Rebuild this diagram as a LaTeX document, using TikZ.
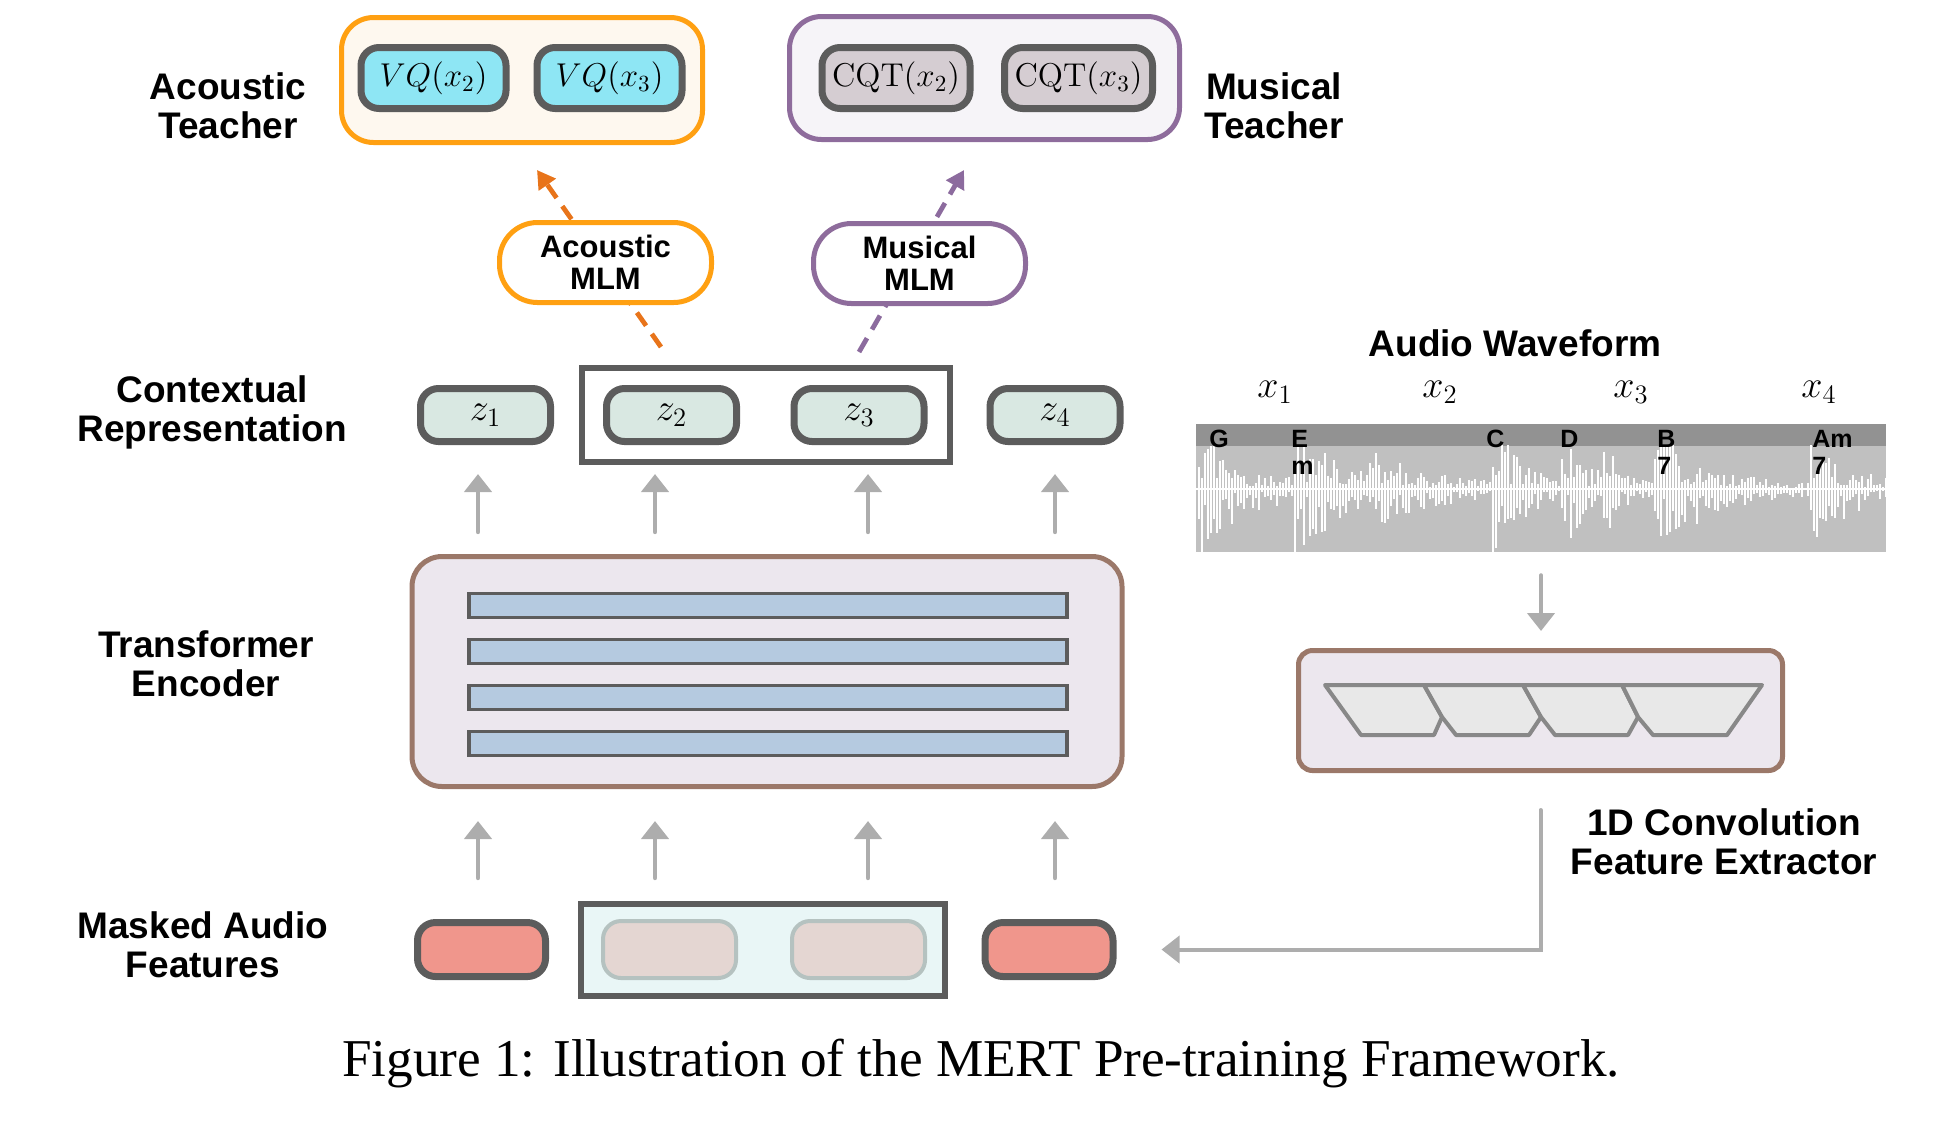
\documentclass[tikz,border=0pt]{standalone}
\usepackage{fix-cm}
\usepackage{amsmath}
\usepackage[no-math]{fontspec}
\setmainfont{Liberation Serif}
\setsansfont{Liberation Sans}
\usetikzlibrary{arrows.meta}

\definecolor{tOrange}{HTML}{FFA012}
\definecolor{tOrangeFill}{HTML}{FEF8EF}
\definecolor{tPurple}{HTML}{8E6C9C}
\definecolor{tPurpleFill}{HTML}{F6F4F8}
\definecolor{vqCyan}{HTML}{8EE6F4}
\definecolor{cqtGray}{HTML}{D5CDD2}
\definecolor{darkGr}{HTML}{5C5C5C}
\definecolor{zMint}{HTML}{D9E8E2}
\definecolor{encBrown}{HTML}{9B7869}
\definecolor{encFill}{HTML}{ECE7EE}
\definecolor{barBlue}{HTML}{B5CAE0}
\definecolor{maskRed}{HTML}{F0968C}
\definecolor{maskPale}{HTML}{E4D6D2}
\definecolor{maskEdge}{HTML}{B5C2C0}
\definecolor{maskBg}{HTML}{E9F6F6}
\definecolor{arrGray}{HTML}{ADADAD}
\definecolor{waveBg}{HTML}{C0C0C0}
\definecolor{waveBand}{HTML}{929292}
\definecolor{trapGray}{HTML}{888888}
\definecolor{trapFill}{HTML}{E8E8E8}
\definecolor{dashOrange}{HTML}{E8741A}
\definecolor{dashPurple}{HTML}{8C6B9E}

\tikzset{
  lbl/.style={font=\sffamily\bfseries\fontsize{18.5}{19.5}\selectfont,align=center},
  tok/.style={draw=darkGr,line width=3.5pt,rounded corners=9pt,inner sep=0pt,font=\fontsize{16.5}{18}\selectfont},
  mlm/.style={line width=2.5pt,fill=white,rounded corners=19pt,minimum width=106pt,minimum height=40pt,align=center,inner sep=0pt,font=\sffamily\bfseries\fontsize{15.5}{16}\selectfont},
  garr/.style={draw=arrGray,line width=2.2pt,line cap=round,-{Triangle[width=13.5pt,length=9pt]}},
  tdash/.style={line width=2.4pt,dash pattern=on 8pt off 5pt,-{Triangle[width=10pt,length=9pt]}},
  chord/.style={font=\sffamily\bfseries\fontsize{12.5}{13.5}\selectfont,align=left,anchor=north west,inner sep=0pt},
}

\begin{document}
\begin{tikzpicture}[x=0.5pt,y=-0.5pt]
          %\draw[very thin,lightgray] (0,0) grid[step=100] (1957,1131);
          \useasboundingbox (0,0) rectangle (1957,1131);
          % teachers
          \node[draw=tOrange,fill=tOrangeFill,line width=2.5pt,rounded corners=16pt,minimum width=180.5pt,minimum height=62.5pt] (at) at (522,80) {};
          \node[draw=tPurple,fill=tPurpleFill,line width=2.5pt,rounded corners=16pt,minimum width=195pt,minimum height=61.5pt] (mt) at (984.5,78) {};
          \node[tok,fill=vqCyan,minimum width=72.5pt,minimum height=30.5pt] (vq2) at (433.5,78) {$VQ(x_2)$};
          \node[tok,fill=vqCyan,minimum width=72.5pt,minimum height=30.5pt] (vq3) at (609.5,78) {$VQ(x_3)$};
          \node[tok,fill=cqtGray,minimum width=74pt,minimum height=30.5pt] (cqt2) at (896,78) {$\mathrm{CQT}(x_2)$};
          \node[tok,fill=cqtGray,minimum width=74pt,minimum height=30.5pt] (cqt3) at (1078.5,78) {$\mathrm{CQT}(x_3)$};
          \node[lbl] (atl) at (228,106) {Acoustic\\Teacher};
          \node[lbl] (mtl) at (1274,106) {Musical\\Teacher};
          % masked prediction
          \coordinate (atail) at (661,347);
          \coordinate (ahead) at (537,170);
          \coordinate (mtail) at (859,352);
          \coordinate (mhead) at (964,170);
          \draw[tdash,dashOrange] (atail) -- (ahead);
          \draw[tdash,dashPurple] (mtail) -- (mhead);
          \node[mlm,draw=tOrange] (am) at (605.5,262.5) {Acoustic\\MLM};
          \node[mlm,draw=tPurple] (mm) at (919.5,263.5) {Musical\\MLM};
          % contextual representation
          \node[draw=darkGr,line width=3pt,minimum width=184pt,minimum height=47pt] (zg) at (766,415) {};
          \foreach \n/\x in {1/485.5,2/671.5,3/859,4/1055}
            \node[tok,fill=zMint,minimum width=65pt,minimum height=26.5pt,font=\fontsize{19}{20}\selectfont] (z\n) at (\x,415) {$z_\n$};
          \node[lbl] (crl) at (212,412) {Contextual\\Representation};
          % encoder
          \node[draw=encBrown,fill=encFill,line width=2.5pt,rounded corners=15pt,minimum width=355pt,minimum height=115pt] (enc) at (767,671.5) {};
          \foreach \y [count=\i] in {605.5,651.5,697.5,743.5}
            \node[draw=darkGr,fill=barBlue,line width=1.6pt,minimum width=299pt,minimum height=12pt,inner sep=0pt] (bar\i) at (768,\y) {};
          \node[lbl] (tel) at (206,664) {Transformer\\Encoder};
          % masked features
          \node[draw=darkGr,fill=maskBg,line width=3pt,minimum width=182pt,minimum height=46pt] (mg) at (763,950) {};
          \node[tok,fill=maskRed,minimum width=64pt,minimum height=27pt] (m1) at (481.5,949.5) {};
          \node[tok,draw=maskEdge,line width=2pt,fill=maskPale,minimum width=66.5pt,minimum height=28.5pt] (m2) at (669.5,949.5) {};
          \node[tok,draw=maskEdge,line width=2pt,fill=maskPale,minimum width=66.5pt,minimum height=28.5pt] (m3) at (858.5,949.5) {};
          \node[tok,fill=maskRed,minimum width=64pt,minimum height=27pt] (m4) at (1049,949.5) {};
          \node[lbl] (mal) at (203,945) {Masked Audio\\Features};
          \foreach \n/\x in {1/478,2/655,3/868,4/1055}{
            \coordinate (c\n) at (\x,0);
            \draw[garr,shorten <=20.5pt,shorten >=16pt] (m\n.north -| c\n) -- (enc.south -| c\n);
            \draw[garr,shorten <=11pt,shorten >=14.5pt] (enc.north -| c\n) -- (z\n.south -| c\n);
          }
          % waveform
          \node[lbl] (awl) at (1515,343) {Audio Waveform};
          \foreach \n/\x in {1/1275,2/1440,3/1631,4/1819}
            \node[font=\fontsize{19}{20}\selectfont] (x\n) at (\x,392) {$x_\n$};
          \node[fill=waveBg,minimum width=345pt,minimum height=64pt,inner sep=0pt] (wave) at (1541,488) {};
          \fill[waveBand] (wave.north west) rectangle ([yshift=-11pt]wave.north east);
          \begin{scope}
            \clip ([yshift=-11pt]wave.north west) rectangle (wave.south east);
            \pgfmathsetseed{42}
            \draw[white,line width=0.7pt] (1196,489) -- (1886,489);
            \foreach \i in {0,...,229}{
              \pgfmathsetmacro\wx{1199+3*\i}
              \pgfmathsetmacro\env{3+50*(\wx>=1198)*exp(-max(\wx-1198,0)/45)+45*(\wx>=1295)*exp(-max(\wx-1295,0)/45)+22*(\wx>=1370)*exp(-max(\wx-1370,0)/60)+60*(\wx>=1492)*exp(-max(\wx-1492,0)/25)+40*(\wx>=1560)*exp(-max(\wx-1560,0)/30)+45*(\wx>=1602)*exp(-max(\wx-1602,0)/12)+50*(\wx>=1655)*exp(-max(\wx-1655,0)/50)+40*(\wx>=1810)*exp(-max(\wx-1810,0)/40)}
              \pgfmathsetmacro\up{\env*(0.15+1.1*rnd)}
              \pgfmathsetmacro\dn{\env*(0.15+1.3*rnd)}
              \draw[white,line width=1.25pt] ({\wx},{489-\up}) -- ({\wx},{489+\dn});
            }
          \end{scope}
          \node[chord] (ch1) at (1209,430) {G};
          \node[chord] (ch2) at (1291,430) {E\\m};
          \node[chord] (ch3) at (1486,430) {C};
          \node[chord] (ch4) at (1560,430) {D};
          \node[chord] (ch5) at (1657,430) {B\\7};
          \node[chord] (ch6) at (1812,430) {Am\\7};
          % feature extractor
          \node[draw=encBrown,fill=encFill,line width=2.5pt,rounded corners=7pt,minimum width=242pt,minimum height=60pt] (conv) at (1540.5,710.5) {};
          \filldraw[draw=trapGray,fill=trapFill,line width=2pt,line join=round] (1325,685) -- (1361,735) -- (1434,735) -- (1442,717) -- (1424,685) -- cycle;
          \filldraw[draw=trapGray,fill=trapFill,line width=2pt,line join=round] (1424,685) -- (1442,717) -- (1456,735) -- (1529,735) -- (1541,717) -- (1523,685) -- cycle;
          \filldraw[draw=trapGray,fill=trapFill,line width=2pt,line join=round] (1523,685) -- (1541,717) -- (1555,735) -- (1628,735) -- (1638,717) -- (1622,685) -- cycle;
          \filldraw[draw=trapGray,fill=trapFill,line width=2pt,line join=round] (1622,685) -- (1638,717) -- (1653,735) -- (1727,735) -- (1762,685) -- cycle;
          \node[lbl] (cvl) at (1724,842) {1D Convolution\\Feature Extractor};
          \draw[garr,shorten <=11.5pt,shorten >=8.5pt] (wave.south) -- (wave.south |- conv.north);
          \draw[garr,line width=2pt,shorten <=18.5pt,shorten >=22.5pt] (conv.south) |- (m4.east);
          % caption
          \node[font=\fontsize{26.6}{31}\selectfont] (cap) at (981,1063) {Figure 1: Illustration of the MERT Pre-training Framework.};
        \end{tikzpicture}
\end{document}
